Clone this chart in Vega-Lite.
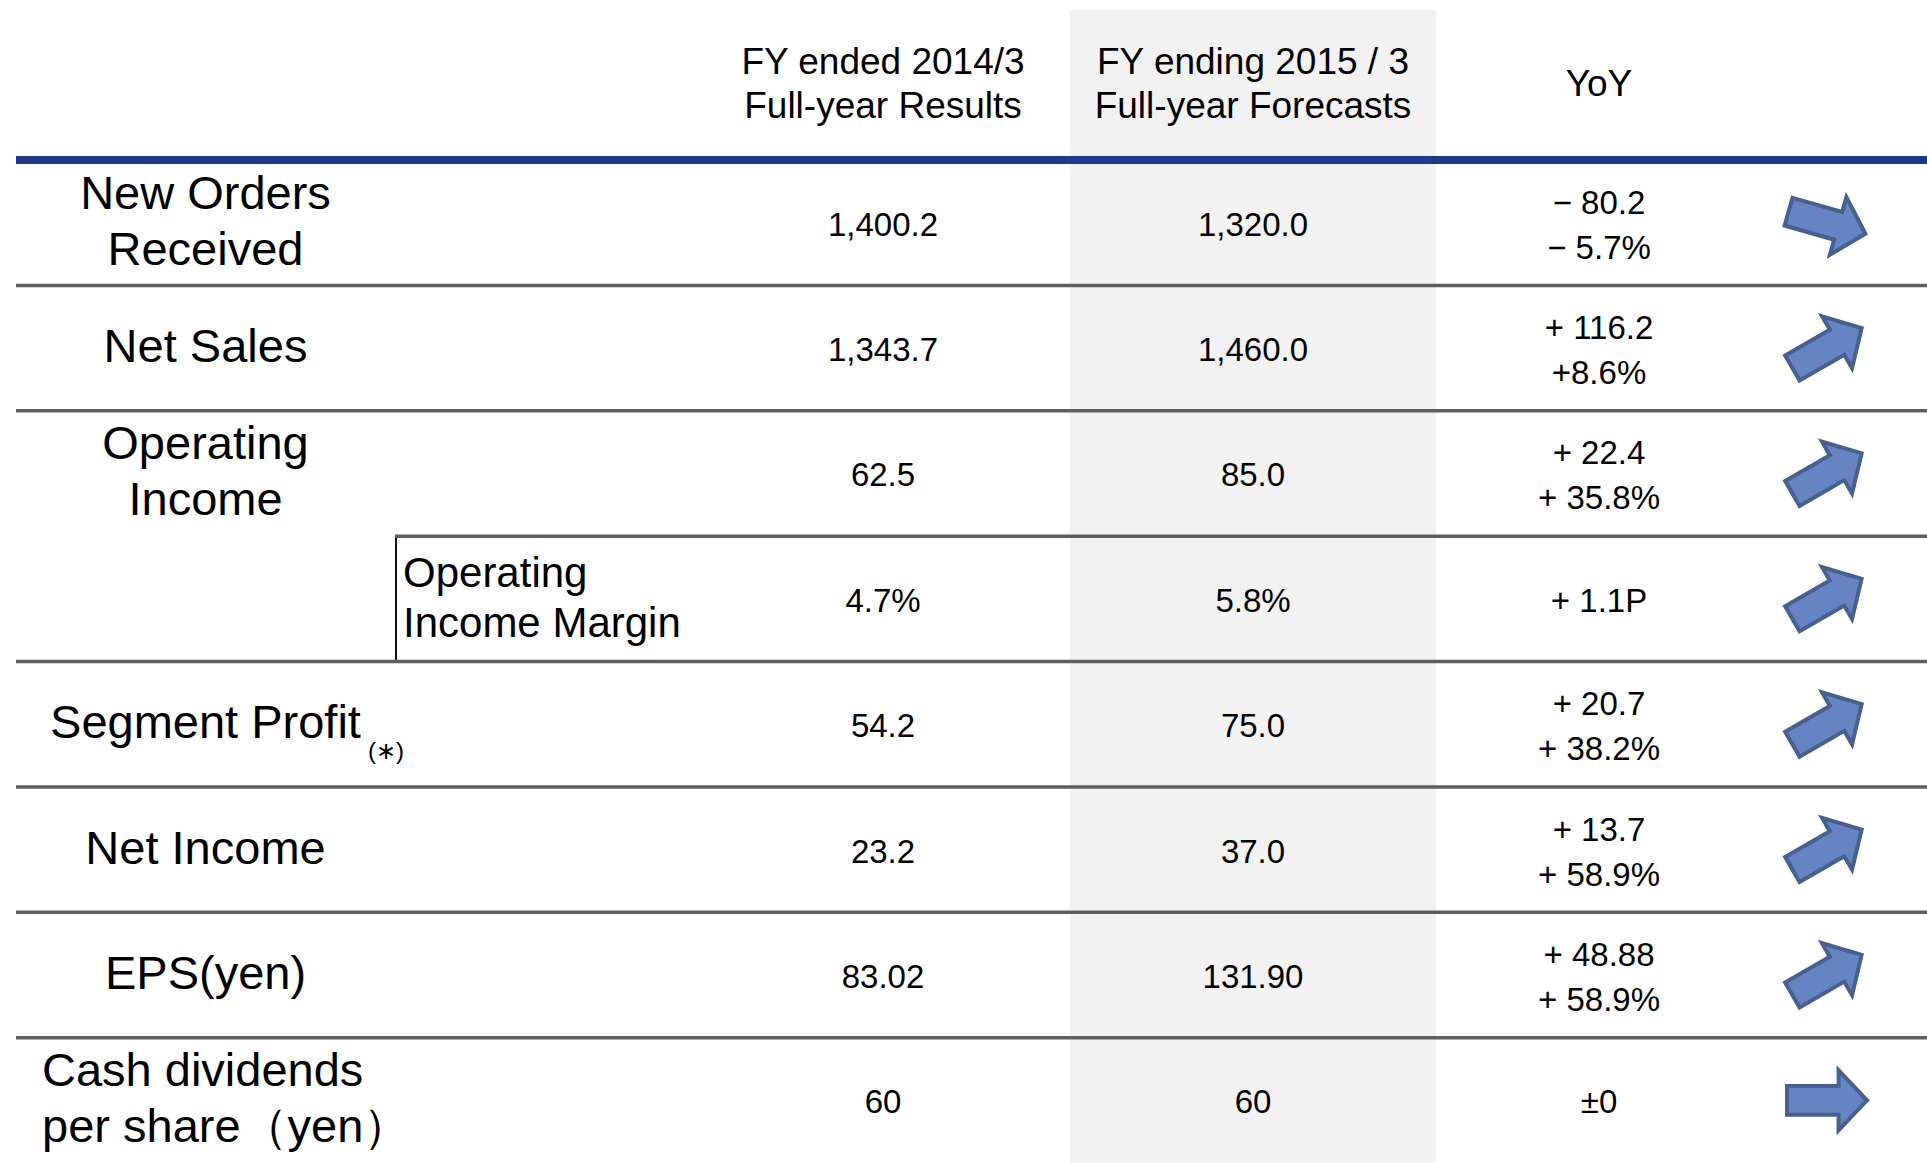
{
  "$schema": "https://vega.github.io/schema/vega-lite/v6.json",
  "padding": {"left": 12, "top": 10, "right": 0, "bottom": 0},
  "background": "white",
  "config": {
    "view": {"stroke": null},
    "concat": {"spacing": 0},
    "text": {"font": "Liberation Sans", "color": "#000000"}
  },
  "datasets": {
    "header": [
      {"column": "FY2014", "title": "FY ended 2014/3\nFull-year Results"},
      {"column": "FY2015", "title": "FY ending 2015 / 3\nFull-year Forecasts"},
      {"column": "YoY", "title": "YoY"}
    ],
    "rows": [
      {"item": "New Orders Received", "label": "New Orders\nReceived", "note": "", "sub": "", "fy2014": "1,400.2", "fy2015": "1,320.0", "yoy": "− 80.2\n− 5.7%", "direction": -1},
      {"item": "Net Sales", "label": "Net Sales", "note": "", "sub": "", "fy2014": "1,343.7", "fy2015": "1,460.0", "yoy": "+ 116.2\n+8.6%", "direction": 1},
      {"item": "Operating Income", "label": "Operating\nIncome", "note": "", "sub": "", "fy2014": "62.5", "fy2015": "85.0", "yoy": "+ 22.4\n+ 35.8%", "direction": 1},
      {"item": "Operating Income Margin", "label": "", "note": "", "sub": "Operating\nIncome Margin", "fy2014": "4.7%", "fy2015": "5.8%", "yoy": "+ 1.1P", "direction": 1},
      {"item": "Segment Profit", "label": "Segment Profit", "note": "(∗)", "sub": "", "fy2014": "54.2", "fy2015": "75.0", "yoy": "+ 20.7\n+ 38.2%", "direction": 1},
      {"item": "Net Income", "label": "Net Income", "note": "", "sub": "", "fy2014": "23.2", "fy2015": "37.0", "yoy": "+ 13.7\n+ 58.9%", "direction": 1},
      {"item": "EPS", "label": "EPS(yen)", "note": "", "sub": "", "fy2014": "83.02", "fy2015": "131.90", "yoy": "+ 48.88\n+ 58.9%", "direction": 1},
      {"item": "Cash dividends per share", "label": "Cash dividends\nper share（yen）", "note": "", "sub": "", "fy2014": "60", "fy2015": "60", "yoy": "±0", "direction": 0}
    ]
  },
  "columns": 8,
  "spacing": 0,
  "bounds": "flush",
  "concat": [
    {"width": 379, "height": 150, "data": {"values": []}, "mark": "text"},
    {"width": 2, "height": 150, "data": {"values": []}, "mark": "text"},
    {"width": 299, "height": 150, "data": {"values": []}, "mark": "text"},
    {"width": 374, "height": 150, "data": {"name": "header"},
     "transform": [{"filter": "datum.column === 'FY2014'"}],
     "mark": {"type": "text", "fontSize": 37, "lineHeight": 44, "lineBreak": "\n", "align": "center", "baseline": "middle", "dy": -22},
     "encoding": {"text": {"field": "title"}}},
    {"width": 366, "height": 150, "view": {"fill": "#f2f2f2", "stroke": null}, "data": {"name": "header"},
     "transform": [{"filter": "datum.column === 'FY2015'"}],
     "mark": {"type": "text", "fontSize": 37, "lineHeight": 44, "lineBreak": "\n", "align": "center", "baseline": "middle", "dy": -22},
     "encoding": {"text": {"field": "title"}}},
    {"width": 326, "height": 150, "data": {"name": "header"},
     "transform": [{"filter": "datum.column === 'YoY'"}],
     "mark": {"type": "text", "fontSize": 37, "lineHeight": 44, "align": "center", "baseline": "middle"},
     "encoding": {"text": {"field": "title"}}},
    {"width": 130, "height": 150, "data": {"values": []}, "mark": "text"},
    {"width": 39, "height": 150, "data": {"values": []}, "mark": "text"},

    {"width": 379, "height": 1003, "data": {"name": "rows"},
     "layer": [
       {"transform": [{"filter": "datum.item !== 'New Orders Received' && datum.item !== 'Operating Income Margin'"}],
        "mark": {"type": "rule", "color": "#5e5e5e", "strokeWidth": 3.5},
        "encoding": {"y": {"field": "item", "type": "nominal", "axis": null, "bandPosition": 0, "scale": {"type": "band", "paddingInner": 0, "paddingOuter": 0, "domain": ["New Orders Received", "Net Sales", "Operating Income", "Operating Income Margin", "Segment Profit", "Net Income", "EPS", "Cash dividends per share"]}}}},
       {"transform": [{"filter": "datum.item === 'New Orders Received'"}],
        "mark": {"type": "rule", "color": "#1f3a8c", "strokeWidth": 8},
        "encoding": {"y": {"field": "item", "type": "nominal", "axis": null, "bandPosition": 0}}},
       {"transform": [{"filter": "datum.item !== 'Cash dividends per share' && indexof(datum.label, '\\n') < 0"}],
        "mark": {"type": "text", "fontSize": 47, "lineHeight": 56, "align": "center", "baseline": "middle"},
        "encoding": {"y": {"field": "item", "type": "nominal", "axis": null, "bandPosition": 0.5}, "text": {"field": "label"}}},
       {"transform": [{"filter": "datum.item !== 'Cash dividends per share' && indexof(datum.label, '\\n') >= 0"}],
        "mark": {"type": "text", "fontSize": 47, "lineHeight": 56, "lineBreak": "\n", "align": "center", "baseline": "middle", "dy": -28},
        "encoding": {"y": {"field": "item", "type": "nominal", "axis": null, "bandPosition": 0.5}, "text": {"field": "label"}}},
       {"transform": [{"filter": "datum.item === 'Cash dividends per share'"}],
        "mark": {"type": "text", "fontSize": 47, "lineHeight": 56, "lineBreak": "\n", "align": "left", "baseline": "middle", "dx": 26, "dy": -28},
        "encoding": {"y": {"field": "item", "type": "nominal", "axis": null, "bandPosition": 0.5},
                     "x": {"datum": "label", "type": "nominal", "axis": null, "bandPosition": 0, "scale": {"type": "band", "paddingInner": 0, "paddingOuter": 0}},
                     "text": {"field": "label"}}},
       {"transform": [{"filter": "datum.note !== ''"}],
        "mark": {"type": "text", "fontSize": 24, "align": "right", "baseline": "middle", "dx": 9, "dy": 28},
        "encoding": {"y": {"field": "item", "type": "nominal", "axis": null, "bandPosition": 0.5}, "x": {"value": "width"}, "text": {"field": "note"}}}
     ]},
    {"width": 2, "height": 1003, "data": {"name": "rows"},
     "layer": [
       {"transform": [{"filter": "datum.item === 'Operating Income Margin'"}],
        "mark": {"type": "rect", "color": "#111111"},
        "encoding": {"y": {"field": "item", "type": "nominal", "axis": null, "scale": {"type": "band", "paddingInner": 0, "paddingOuter": 0, "domain": ["New Orders Received", "Net Sales", "Operating Income", "Operating Income Margin", "Segment Profit", "Net Income", "EPS", "Cash dividends per share"]}}}},
       {"transform": [{"filter": "datum.item !== 'New Orders Received'"}],
        "mark": {"type": "rule", "color": "#5e5e5e", "strokeWidth": 3.5},
        "encoding": {"y": {"field": "item", "type": "nominal", "axis": null, "bandPosition": 0}}},
       {"transform": [{"filter": "datum.item === 'New Orders Received'"}],
        "mark": {"type": "rule", "color": "#1f3a8c", "strokeWidth": 8},
        "encoding": {"y": {"field": "item", "type": "nominal", "axis": null, "bandPosition": 0}}}
     ]},
    {"width": 299, "height": 1003, "data": {"name": "rows"},
     "layer": [
       {"transform": [{"filter": "datum.item !== 'New Orders Received'"}],
        "mark": {"type": "rule", "color": "#5e5e5e", "strokeWidth": 3.5},
        "encoding": {"y": {"field": "item", "type": "nominal", "axis": null, "bandPosition": 0, "scale": {"type": "band", "paddingInner": 0, "paddingOuter": 0, "domain": ["New Orders Received", "Net Sales", "Operating Income", "Operating Income Margin", "Segment Profit", "Net Income", "EPS", "Cash dividends per share"]}}}},
       {"transform": [{"filter": "datum.item === 'New Orders Received'"}],
        "mark": {"type": "rule", "color": "#1f3a8c", "strokeWidth": 8},
        "encoding": {"y": {"field": "item", "type": "nominal", "axis": null, "bandPosition": 0}}},
       {"transform": [{"filter": "datum.sub !== ''"}],
        "mark": {"type": "text", "fontSize": 42, "lineHeight": 50, "lineBreak": "\n", "align": "left", "baseline": "middle", "dx": 6, "dy": -25},
        "encoding": {"y": {"field": "item", "type": "nominal", "axis": null, "bandPosition": 0.5},
                     "x": {"datum": "sub", "type": "nominal", "axis": null, "bandPosition": 0, "scale": {"type": "band", "paddingInner": 0, "paddingOuter": 0}},
                     "text": {"field": "sub"}}}
     ]},
    {"width": 374, "height": 1003, "data": {"name": "rows"},
     "layer": [
       {"transform": [{"filter": "datum.item !== 'New Orders Received'"}],
        "mark": {"type": "rule", "color": "#5e5e5e", "strokeWidth": 3.5},
        "encoding": {"y": {"field": "item", "type": "nominal", "axis": null, "bandPosition": 0, "scale": {"type": "band", "paddingInner": 0, "paddingOuter": 0, "domain": ["New Orders Received", "Net Sales", "Operating Income", "Operating Income Margin", "Segment Profit", "Net Income", "EPS", "Cash dividends per share"]}}}},
       {"transform": [{"filter": "datum.item === 'New Orders Received'"}],
        "mark": {"type": "rule", "color": "#1f3a8c", "strokeWidth": 8},
        "encoding": {"y": {"field": "item", "type": "nominal", "axis": null, "bandPosition": 0}}},
       {"mark": {"type": "text", "fontSize": 33, "align": "center", "baseline": "middle", "dy": 3},
        "encoding": {"y": {"field": "item", "type": "nominal", "axis": null, "bandPosition": 0.5}, "text": {"field": "fy2014"}}}
     ]},
    {"width": 366, "height": 1003, "view": {"fill": "#f2f2f2", "stroke": null}, "data": {"name": "rows"},
     "layer": [
       {"transform": [{"filter": "datum.item !== 'New Orders Received'"}],
        "mark": {"type": "rule", "color": "#5e5e5e", "strokeWidth": 3.5},
        "encoding": {"y": {"field": "item", "type": "nominal", "axis": null, "bandPosition": 0, "scale": {"type": "band", "paddingInner": 0, "paddingOuter": 0, "domain": ["New Orders Received", "Net Sales", "Operating Income", "Operating Income Margin", "Segment Profit", "Net Income", "EPS", "Cash dividends per share"]}}}},
       {"transform": [{"filter": "datum.item === 'New Orders Received'"}],
        "mark": {"type": "rule", "color": "#1f3a8c", "strokeWidth": 8},
        "encoding": {"y": {"field": "item", "type": "nominal", "axis": null, "bandPosition": 0}}},
       {"mark": {"type": "text", "fontSize": 33, "align": "center", "baseline": "middle", "dy": 3},
        "encoding": {"y": {"field": "item", "type": "nominal", "axis": null, "bandPosition": 0.5}, "text": {"field": "fy2015"}}}
     ]},
    {"width": 326, "height": 1003, "data": {"name": "rows"},
     "layer": [
       {"transform": [{"filter": "datum.item !== 'New Orders Received'"}],
        "mark": {"type": "rule", "color": "#5e5e5e", "strokeWidth": 3.5},
        "encoding": {"y": {"field": "item", "type": "nominal", "axis": null, "bandPosition": 0, "scale": {"type": "band", "paddingInner": 0, "paddingOuter": 0, "domain": ["New Orders Received", "Net Sales", "Operating Income", "Operating Income Margin", "Segment Profit", "Net Income", "EPS", "Cash dividends per share"]}}}},
       {"transform": [{"filter": "datum.item === 'New Orders Received'"}],
        "mark": {"type": "rule", "color": "#1f3a8c", "strokeWidth": 8},
        "encoding": {"y": {"field": "item", "type": "nominal", "axis": null, "bandPosition": 0}}},
       {"transform": [{"filter": "indexof(datum.yoy, '\\n') < 0"}],
        "mark": {"type": "text", "fontSize": 33, "align": "center", "baseline": "middle", "dy": 3},
        "encoding": {"y": {"field": "item", "type": "nominal", "axis": null, "bandPosition": 0.5}, "text": {"field": "yoy"}}},
       {"transform": [{"filter": "indexof(datum.yoy, '\\n') >= 0"}],
        "mark": {"type": "text", "fontSize": 33, "lineHeight": 45, "lineBreak": "\n", "align": "center", "baseline": "middle", "dy": -19},
        "encoding": {"y": {"field": "item", "type": "nominal", "axis": null, "bandPosition": 0.5}, "text": {"field": "yoy"}}}
     ]},
    {"width": 130, "height": 1003, "data": {"name": "rows"},
     "layer": [
       {"transform": [{"filter": "datum.item !== 'New Orders Received'"}],
        "mark": {"type": "rule", "color": "#5e5e5e", "strokeWidth": 3.5},
        "encoding": {"y": {"field": "item", "type": "nominal", "axis": null, "bandPosition": 0, "scale": {"type": "band", "paddingInner": 0, "paddingOuter": 0, "domain": ["New Orders Received", "Net Sales", "Operating Income", "Operating Income Margin", "Segment Profit", "Net Income", "EPS", "Cash dividends per share"]}}}},
       {"transform": [{"filter": "datum.item === 'New Orders Received'"}],
        "mark": {"type": "rule", "color": "#1f3a8c", "strokeWidth": 8},
        "encoding": {"y": {"field": "item", "type": "nominal", "axis": null, "bandPosition": 0}}},
       {"mark": {"type": "point", "shape": "M-1,-0.36L0.29,-0.36L0.29,-0.75L1,0L0.29,0.75L0.29,0.36L-1,0.36Z", "filled": true, "color": "#6584c1", "fill": "#6584c1", "stroke": "#46608f", "strokeWidth": 4, "size": 6400, "opacity": 1},
        "encoding": {"y": {"field": "item", "type": "nominal", "axis": null, "bandPosition": 0.5},
                     "angle": {"field": "direction", "type": "quantitative", "legend": null, "scale": {"domain": [-1, 0, 1], "range": [16, 0, -30]}}}}
     ]},
    {"width": 39, "height": 1003, "data": {"name": "rows"},
     "layer": [
       {"transform": [{"filter": "datum.item !== 'New Orders Received'"}],
        "mark": {"type": "rule", "color": "#5e5e5e", "strokeWidth": 3.5},
        "encoding": {"y": {"field": "item", "type": "nominal", "axis": null, "bandPosition": 0, "scale": {"type": "band", "paddingInner": 0, "paddingOuter": 0, "domain": ["New Orders Received", "Net Sales", "Operating Income", "Operating Income Margin", "Segment Profit", "Net Income", "EPS", "Cash dividends per share"]}}}},
       {"transform": [{"filter": "datum.item === 'New Orders Received'"}],
        "mark": {"type": "rule", "color": "#1f3a8c", "strokeWidth": 8},
        "encoding": {"y": {"field": "item", "type": "nominal", "axis": null, "bandPosition": 0}}}
     ]}
  ]
}
